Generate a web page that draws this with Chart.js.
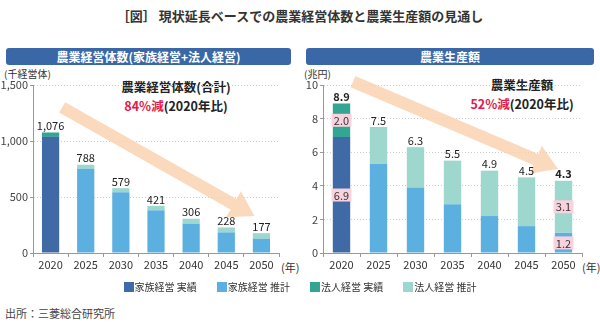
<!DOCTYPE html>
<html>
<head>
<meta charset="utf-8">
<script src="https://cdn.jsdelivr.net/npm/chart.js@4"></script>
<style>
  body { margin: 0; width: 600px; height: 324px; background: #fff; position: relative; overflow: hidden;
         font-family: "Noto Sans CJK JP", "Noto Sans", sans-serif; color: #222; }
  .abs { position: absolute; white-space: nowrap; }
  .title { left: 0; width: 600px; top: 6px; text-align: center; font-size: 13px; font-weight: bold; color: #333; }
  .head { top: 48px; height: 17px; line-height: 17px; background: #3a68a6; color: #fff; font-size: 12px;
          font-weight: bold; text-align: center; border-radius: 3px; }
  .unit { font-size: 10px; color: #333; }
  .note { font-size: 12.5px; font-weight: bold; color: #222; transform: translateX(-50%); text-align: center; line-height: 19px; }
  .red { color: #e5194b; }
  .legend { top: 279px; left: 0; width: 600px; display: flex; justify-content: center; gap: 20px; font-size: 10px; color: #333; }
  .legend span.sw { display: inline-block; width: 10px; height: 10px; vertical-align: -1px; margin-right: 1px; }
  .foot { left: 5px; top: 305px; font-size: 11px; color: #444; }
  canvas { position: absolute; }
</style>
</head>
<body>
<div class="abs title">［図］ 現状延長ベースでの農業経営体数と農業生産額の見通し</div>
<div class="abs head" style="left:6px;width:285px;">農業経営体数(家族経営+法人経営)</div>
<div class="abs head" style="left:306px;width:288px;">農業生産額</div>
<div class="abs unit" style="left:4px;top:66px;">(千経営体)</div>
<div class="abs unit" style="left:304px;top:66px;">(兆円)</div>
<div class="abs note" style="left:176px;top:77px;">農業経営体数(合計)<br><span class="red">84%減</span>(2020年比)</div>
<div class="abs note" style="left:522px;top:75px;">農業生産額<br><span class="red">52%減</span>(2020年比)</div>
<div class="abs unit" style="left:281px;top:259px;font-size:11px;">(年)</div>
<div class="abs unit" style="left:582px;top:259px;font-size:11px;">(年)</div>

<canvas id="left" width="300" height="214" style="left:0;top:66px;"></canvas>
<canvas id="right" width="300" height="214" style="left:300px;top:66px;"></canvas>

<div class="abs legend" id="legend"></div>
<div class="abs foot">出所：三菱総合研究所</div>

<script>
const years = ["2020", "2025", "2030", "2035", "2040", "2045", "2050"];
const seriesNames = ["家族経営 実績", "家族経営 推計", "法人経営 実績", "法人経営 推計"];
const seriesColors = ["#3f6aa5", "#5cb0e0", "#34a592", "#9ed7cd"];

// 農業経営体数（千経営体）
const countFamilyActual = [1037, null, null, null, null, null, null];
const countFamilyEst = [null, 752, 543, 381, 262, 184, 128];
const countCorpActual = [39, null, null, null, null, null, null];
const countCorpEst = [null, 36, 36, 40, 44, 44, 49];
const countTicks = [0, 500, 1000, 1500];

// 農業生産額（兆円）
const valueFamilyActual = [6.9, null, null, null, null, null, null];
const valueFamilyEst = [null, 5.3, 3.9, 2.9, 2.2, 1.6, 1.2];
const valueCorpActual = [2.0, null, null, null, null, null, null];
const valueCorpEst = [null, 2.2, 2.4, 2.6, 2.7, 2.9, 3.1];
const valueTicks = [0, 2, 4, 6, 8, 10];
const boxedYears = ["2020", "2050"];

// arrow as [category index, value] start/end
const countArrow = [[0.33, 1300], [5.8, 330]];
const valueArrow = [[0.31, 10.2], [5.85, 5.0]];

const FONT = '"Noto Sans CJK JP", "Noto Sans", sans-serif';

// legend
const legendEl = document.getElementById("legend");
seriesNames.forEach((name, i) => {
  const item = document.createElement("div");
  item.innerHTML = '<span class="sw" style="background:' + seriesColors[i] + '"></span>' + name.replace(" ", "&nbsp;");
  legendEl.appendChild(item);
});

function drawArrow(ctx, x1, y1, x2, y2) {
  const ang = Math.atan2(y2 - y1, x2 - x1);
  const len = Math.hypot(x2 - x1, y2 - y1);
  const shaft = 6, head = 15, headLen = 24;
  ctx.save();
  ctx.translate(x1, y1);
  ctx.rotate(ang);
  ctx.beginPath();
  ctx.moveTo(0, -shaft);
  ctx.lineTo(len - headLen, -shaft);
  ctx.lineTo(len - headLen, -head);
  ctx.lineTo(len, 0);
  ctx.lineTo(len - headLen, head);
  ctx.lineTo(len - headLen, shaft);
  ctx.lineTo(0, shaft);
  ctx.closePath();
  ctx.fillStyle = "rgba(249, 208, 172, 0.8)";
  ctx.fill();
  ctx.restore();
}

const arrowPlugin = {
  id: "arrow",
  beforeDatasetsDraw(chart, args, opts) {
    const xs = chart.scales.x, ys = chart.scales.y;
    const step = xs.getPixelForValue(1) - xs.getPixelForValue(0);
    const p = opts.points;
    const px = (v) => xs.getPixelForValue(0) + v * step;
    drawArrow(chart.ctx, px(p[0][0]), ys.getPixelForValue(p[0][1]), px(p[1][0]), ys.getPixelForValue(p[1][1]));
  },
};

const labelPlugin = {
  id: "barLabels",
  afterDatasetsDraw(chart, args, opts) {
    const ctx = chart.ctx;
    const ys = chart.scales.y;
    const sets = chart.data.datasets;
    ctx.save();
    ctx.textAlign = "center";
    ctx.textBaseline = "bottom";
    years.forEach((yr, i) => {
      let total = 0, x = null;
      sets.forEach((ds, d) => {
        if (ds.data[i] != null) {
          total += ds.data[i];
          x = chart.getDatasetMeta(d).data[i].x;
        }
      });
      const bold = opts.boldYears && opts.boldYears.includes(yr);
      ctx.font = (bold ? "bold " : "") + "11px " + FONT;
      ctx.fillStyle = "#222";
      ctx.fillText(opts.format(total), x, ys.getPixelForValue(total) - 1);

      if (opts.boxed && opts.boxed.includes(yr)) {
        let base = 0;
        sets.forEach((ds, d) => {
          const v = ds.data[i];
          if (v == null) return;
          const cy = ys.getPixelForValue(base + v / 2);
          base += v;
          const txt = v.toFixed(1);
          ctx.fillStyle = "#f8d3de";
          ctx.fillRect(x - 10, cy - 6.5, 20, 13);
          ctx.fillStyle = "#333";
          ctx.font = "11px " + FONT;
          ctx.textBaseline = "middle";
          ctx.fillText(txt, x, cy + 0.5);
          ctx.textBaseline = "bottom";
        });
      }
    });
    ctx.restore();
  },
};

function makeChart(canvasId, data, ticks, yWidth, padRight, barPct, labelOpts, arrowPts) {
  const datasets = data.map((d, i) => ({
    label: seriesNames[i],
    data: d,
    backgroundColor: seriesColors[i],
    stack: "s",
    categoryPercentage: 1,
    barPercentage: barPct,
    skipNull: true,
  }));
  return new Chart(document.getElementById(canvasId), {
    type: "bar",
    data: { labels: years, datasets: datasets },
    options: {
      responsive: false,
      animation: false,
      layout: { padding: { top: 19, right: padRight, left: 0, bottom: 0 } },
      plugins: {
        legend: { display: false },
        tooltip: { enabled: false },
        arrow: { points: arrowPts },
        barLabels: labelOpts,
      },
      scales: {
        x: {
          stacked: true,
          grid: { display: true, drawOnChartArea: false, drawTicks: true, tickLength: 4, color: "#999" },
          border: { color: "#999" },
          ticks: { font: { family: FONT, size: 11 }, color: "#333", padding: 1 },
          afterFit: (s) => { s.height = 27; },
        },
        y: {
          stacked: true,
          min: ticks[0],
          max: ticks[ticks.length - 1],
          afterBuildTicks: (s) => { s.ticks = ticks.map((v) => ({ value: v })); },
          grid: { color: "#cfcfcf", tickLength: 3, tickColor: "#999", tickBorderDash: [] },
          border: { color: "#999", dash: [1, 2] },
          ticks: {
            font: { family: FONT, size: 11 },
            color: "#444",
            padding: 2,
            callback: (v) => v.toLocaleString("en-US"),
          },
          afterFit: (s) => { s.width = yWidth; },
        },
      },
    },
    plugins: [arrowPlugin, labelPlugin],
  });
}

makeChart("left",
  [countFamilyActual, countFamilyEst, countCorpActual, countCorpEst],
  countTicks, 33, 21, 0.49,
  { format: (v) => Math.round(v).toLocaleString("en-US") },
  countArrow);

makeChart("right",
  [valueFamilyActual, valueFamilyEst, valueCorpActual, valueCorpEst],
  valueTicks, 23, 18, 0.47,
  { format: (v) => v.toFixed(1), boldYears: ["2020", "2050"], boxed: boxedYears },
  valueArrow);
</script>
</body>
</html>
